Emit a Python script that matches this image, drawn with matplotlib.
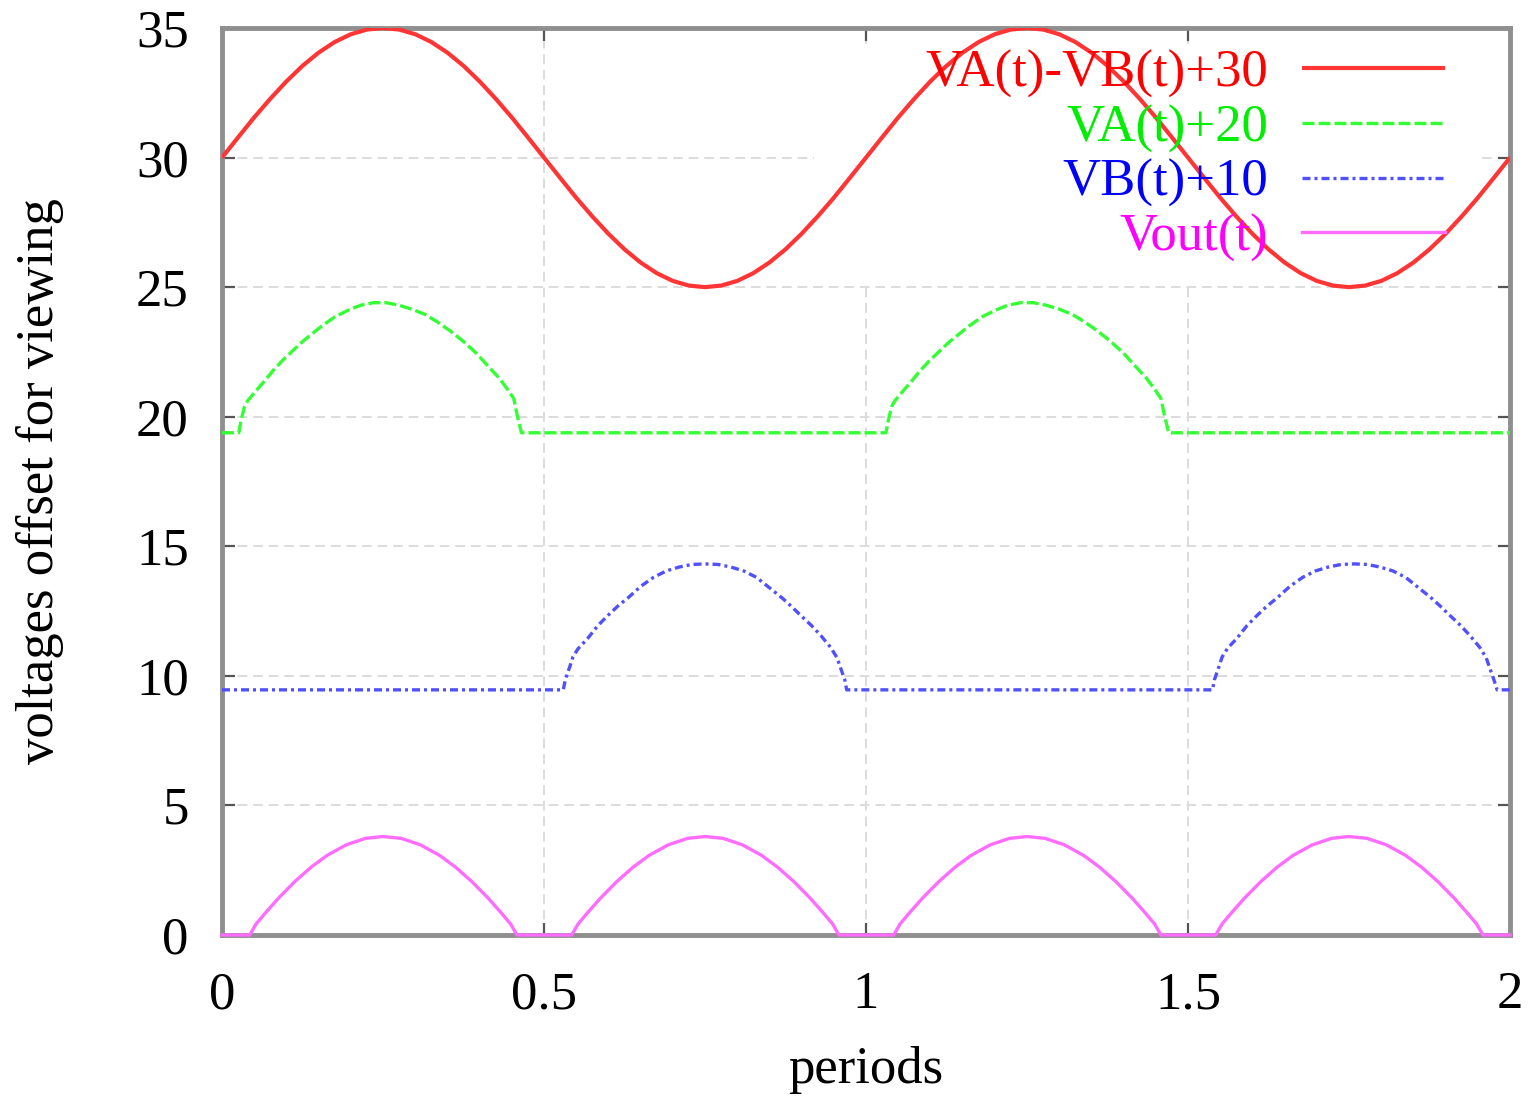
import matplotlib
matplotlib.use("Agg")
import matplotlib.pyplot as plt
from matplotlib.patches import Rectangle

# ---------------- data ----------------
x_ticks = [0, 0.5, 1, 1.5, 2]
x_tick_labels = ["0", "0.5", "1", "1.5", "2"]
y_ticks = [0, 5, 10, 15, 20, 25, 30, 35]
y_tick_labels = ["0", "5", "10", "15", "20", "25", "30", "35"]

labels = ["VA(t)-VB(t)+30", "VA(t)+20", "VB(t)+10", "Vout(t)"]

# VA(t)-VB(t)+30
red_t = [0.00, 0.025, 0.05, 0.075, 0.10, 0.125, 0.15, 0.175, 0.20, 0.225, 0.25,
         0.275, 0.30, 0.325, 0.35, 0.375, 0.40, 0.425, 0.45, 0.475, 0.50,
         0.525, 0.55, 0.575, 0.60, 0.625, 0.65, 0.675, 0.70, 0.725, 0.75,
         0.775, 0.80, 0.825, 0.85, 0.875, 0.90, 0.925, 0.95, 0.975, 1.00,
         1.025, 1.05, 1.075, 1.10, 1.125, 1.15, 1.175, 1.20, 1.225, 1.25,
         1.275, 1.30, 1.325, 1.35, 1.375, 1.40, 1.425, 1.45, 1.475, 1.50,
         1.525, 1.55, 1.575, 1.60, 1.625, 1.65, 1.675, 1.70, 1.725, 1.75,
         1.775, 1.80, 1.825, 1.85, 1.875, 1.90, 1.925, 1.95, 1.975, 2.00]
red_v = [30.0, 30.78, 31.55, 32.27, 32.94, 33.54, 34.05, 34.46, 34.76, 34.94, 35.0,
         34.94, 34.76, 34.46, 34.05, 33.54, 32.94, 32.27, 31.55, 30.78, 30.0,
         29.22, 28.45, 27.73, 27.06, 26.46, 25.95, 25.54, 25.24, 25.06, 25.0,
         25.06, 25.24, 25.54, 25.95, 26.46, 27.06, 27.73, 28.45, 29.22, 30.0,
         30.78, 31.55, 32.27, 32.94, 33.54, 34.05, 34.46, 34.76, 34.94, 35.0,
         34.94, 34.76, 34.46, 34.05, 33.54, 32.94, 32.27, 31.55, 30.78, 30.0,
         29.22, 28.45, 27.73, 27.06, 26.46, 25.95, 25.54, 25.24, 25.06, 25.0,
         25.06, 25.24, 25.54, 25.95, 26.46, 27.06, 27.73, 28.45, 29.22, 30.0]

# VA(t)+20
green_t = [0.000, 0.026, 0.030, 0.035, 0.040, 0.050, 0.065, 0.080, 0.095, 0.110,
           0.125, 0.140, 0.155, 0.175, 0.195, 0.215, 0.235, 0.255, 0.275, 0.295,
           0.315, 0.335, 0.355, 0.375, 0.395, 0.415, 0.430, 0.445, 0.453, 0.458,
           0.465,
           1.031, 1.035, 1.040, 1.045, 1.055, 1.070, 1.085, 1.100, 1.115,
           1.130, 1.145, 1.160, 1.180, 1.200, 1.220, 1.240, 1.260, 1.280, 1.300,
           1.320, 1.340, 1.360, 1.380, 1.400, 1.420, 1.435, 1.450, 1.458, 1.463,
           1.470, 2.000]
green_v = [19.38, 19.38, 19.9, 20.4, 20.62, 20.92, 21.35, 21.8, 22.2, 22.55,
           22.9, 23.2, 23.5, 23.85, 24.1, 24.3, 24.4, 24.4, 24.3, 24.15,
           23.95, 23.65, 23.3, 22.9, 22.45, 21.9, 21.5, 21.0, 20.7, 20.1,
           19.38,
           19.38, 19.9, 20.4, 20.62, 20.92, 21.35, 21.8, 22.2, 22.55,
           22.9, 23.2, 23.5, 23.85, 24.1, 24.3, 24.4, 24.4, 24.3, 24.15,
           23.95, 23.65, 23.3, 22.9, 22.45, 21.9, 21.5, 21.0, 20.7, 20.1,
           19.38, 19.38]

# VB(t)+10
blue_t = [0.000, 0.530, 0.533, 0.540, 0.545, 0.553, 0.568, 0.584, 0.600, 0.615,
          0.630, 0.650, 0.670, 0.690, 0.710, 0.730, 0.750, 0.770, 0.790, 0.810,
          0.830, 0.850, 0.870, 0.885, 0.900, 0.915, 0.930, 0.945, 0.955, 0.962,
          0.967, 0.970,
          1.538, 1.541, 1.548, 1.553, 1.561, 1.576, 1.592, 1.608, 1.623,
          1.638, 1.658, 1.678, 1.698, 1.718, 1.738, 1.758, 1.778, 1.798, 1.818,
          1.838, 1.858, 1.878, 1.893, 1.908, 1.923, 1.938, 1.953, 1.963, 1.970,
          1.975, 1.980, 2.000]
blue_v = [9.46, 9.46, 9.85, 10.35, 10.73, 11.05, 11.45, 11.95, 12.35, 12.7,
          13.0, 13.45, 13.8, 14.05, 14.2, 14.3, 14.32, 14.3, 14.2, 14.05,
          13.8, 13.4, 13.0, 12.66, 12.3, 11.95, 11.55, 11.1, 10.7, 10.2,
          9.85, 9.46,
          9.46, 9.85, 10.35, 10.73, 11.05, 11.45, 11.95, 12.35, 12.7,
          13.0, 13.45, 13.8, 14.05, 14.2, 14.3, 14.32, 14.3, 14.2, 14.05,
          13.8, 13.4, 13.0, 12.66, 12.3, 11.95, 11.55, 11.1, 10.7, 10.2,
          9.85, 9.46, 9.46]

# Vout(t)
vout_t = [0.000,
          0.043, 0.053, 0.068, 0.088, 0.113, 0.138, 0.163, 0.193, 0.223, 0.250,
          0.278, 0.308, 0.338, 0.363, 0.388, 0.413, 0.433, 0.448, 0.458,
          0.543, 0.553, 0.568, 0.588, 0.613, 0.638, 0.663, 0.693, 0.723, 0.750,
          0.778, 0.808, 0.838, 0.863, 0.888, 0.913, 0.933, 0.948, 0.958,
          1.043, 1.053, 1.068, 1.088, 1.113, 1.138, 1.163, 1.193, 1.223, 1.250,
          1.278, 1.308, 1.338, 1.363, 1.388, 1.413, 1.433, 1.448, 1.458,
          1.543, 1.553, 1.568, 1.588, 1.613, 1.638, 1.663, 1.693, 1.723, 1.750,
          1.778, 1.808, 1.838, 1.863, 1.888, 1.913, 1.933, 1.948, 1.958,
          2.000]
vout_v = [0.0,
          0.0, 0.43, 0.87, 1.43, 2.06, 2.61, 3.07, 3.48, 3.73, 3.8,
          3.73, 3.48, 3.07, 2.61, 2.06, 1.43, 0.87, 0.43, 0.0,
          0.0, 0.43, 0.87, 1.43, 2.06, 2.61, 3.07, 3.48, 3.73, 3.8,
          3.73, 3.48, 3.07, 2.61, 2.06, 1.43, 0.87, 0.43, 0.0,
          0.0, 0.43, 0.87, 1.43, 2.06, 2.61, 3.07, 3.48, 3.73, 3.8,
          3.73, 3.48, 3.07, 2.61, 2.06, 1.43, 0.87, 0.43, 0.0,
          0.0, 0.43, 0.87, 1.43, 2.06, 2.61, 3.07, 3.48, 3.73, 3.8,
          3.73, 3.48, 3.07, 2.61, 2.06, 1.43, 0.87, 0.43, 0.0,
          0.0]

# ---------------- styling ----------------
plt.rcParams["font.family"] = ["Liberation Serif", "DejaVu Serif"]
FS = 38

fig = plt.figure(figsize=(15.36, 10.98), dpi=100)
ax = fig.add_axes([222 / 1536, 1 - 935 / 1098, (1510 - 222) / 1536, (935 - 28) / 1098])

ax.set_xlim(0, 2)
ax.set_ylim(0, 35)
ax.set_axisbelow(True)
ax.grid(True, color="#dcdcdc", linestyle=(0, (5, 3)), linewidth=1.4)

# white key background (hides grid like gnuplot's opaque key)
ax.add_patch(Rectangle((0.46, 0.72), 0.515, 0.262, transform=ax.transAxes,
                       facecolor="white", edgecolor="none", zorder=1))

l_red, = ax.plot(red_t, red_v, color="#ff3535", lw=3.0, solid_capstyle="butt",
                 zorder=3, label=labels[0])
l_green, = ax.plot(green_t, green_v, color="#33ff33", lw=2.4,
                   linestyle=(0, (3.6, 1.2)), zorder=3, label=labels[1])
l_blue, = ax.plot(blue_t, blue_v, color="#5050ff", lw=2.4,
                  linestyle=(0, (2.4, 1.2, 0.9, 1.2)), zorder=3, label=labels[2])
l_mag, = ax.plot(vout_t, vout_v, color="#ff6cff", lw=2.4, zorder=3,
                 clip_on=False, label=labels[3])

ax.set_xticks(x_ticks)
ax.set_xticklabels(x_tick_labels)
ax.set_yticks(y_ticks)
ax.set_yticklabels(y_tick_labels)
ax.tick_params(axis="both", direction="in", length=9, width=1.6, color="#555555",
               labelsize=FS, top=True, right=True)
ax.tick_params(axis="x", pad=26)
ax.tick_params(axis="y", pad=24)

for s in ax.spines.values():
    s.set_color("#8f8f8f")
    s.set_linewidth(3.5)

ax.set_xlabel("periods", fontsize=FS, labelpad=19)
ax.set_ylabel("voltages offset for viewing", fontsize=FS, labelpad=52)

leg = ax.legend(handles=[l_red, l_green, l_blue, l_mag], loc="upper right",
                bbox_to_anchor=(0.9495, 0.976), markerfirst=False, frameon=False,
                fontsize=FS, handlelength=2.7, handletextpad=0.65,
                labelspacing=0.12, borderpad=0, borderaxespad=0)
for txt, col in zip(leg.get_texts(), ["#ff0000", "#00ee00", "#0000ff", "#ff00ff"]):
    txt.set_color(col)

fig.savefig("out.png", dpi=100, facecolor="white")
